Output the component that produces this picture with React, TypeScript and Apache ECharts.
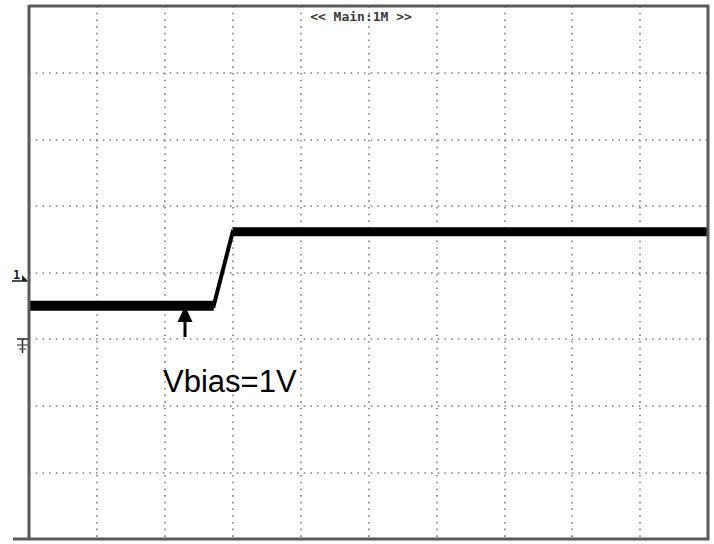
import React, { useEffect, useRef } from "react";
import * as echarts from "echarts";

// Oscilloscope screen: 10 horizontal divisions, 8 vertical divisions
const xDivisions = [0, 10];
const yDivisions = [0, 8];
// Trace (x in divisions, y in divisions from bottom)
const traceX = [0, 2.72, 3.0, 10];
const traceY = [3.5, 3.5, 4.61, 4.61];
const titleText = "<< Main:1M >>";
const annotationText = "Vbias=1V";

export default function App() {
  const ref = useRef<HTMLDivElement>(null);
  useEffect(() => {
    if (!ref.current) return;
    const chart = echarts.init(ref.current, null, { renderer: "svg" });
    const pts = traceX.map((x, i) => [x, traceY[i]]);
    const gridStyle = { color: "#808080", width: 1.6, type: [1.6, 5.1] as any };
    chart.setOption({
      animation: false,
      backgroundColor: "#ffffff",
      grid: { left: 29, top: 6, width: 679, height: 533, show: false },
      xAxis: {
        type: "value",
        min: xDivisions[0],
        max: xDivisions[1],
        interval: 1,
        axisLine: { show: false },
        axisTick: { show: false },
        axisLabel: { show: false },
        splitLine: { show: true, lineStyle: gridStyle },
      },
      yAxis: {
        type: "value",
        min: yDivisions[0],
        max: yDivisions[1],
        interval: 1,
        axisLine: { show: false },
        axisTick: { show: false },
        axisLabel: { show: false },
        splitLine: { show: true, lineStyle: gridStyle },
      },
      series: [
        {
          type: "line",
          data: [pts[0], pts[1]],
          symbol: "none",
          lineStyle: { color: "#000000", width: 10, cap: "butt" },
          z: 3,
        },
        {
          type: "line",
          data: [pts[1], pts[2]],
          symbol: "none",
          lineStyle: { color: "#000000", width: 4, cap: "square" },
          z: 3,
        },
        {
          type: "line",
          data: [pts[2], pts[3]],
          symbol: "none",
          lineStyle: { color: "#000000", width: 9, cap: "butt" },
          z: 3,
        },
      ],
      graphic: [
        // screen border
        { type: "line", shape: { x1: 29, y1: 6, x2: 709, y2: 6 }, style: { stroke: "#5a5a5a", lineWidth: 3 }, z: 10 },
        { type: "line", shape: { x1: 708, y1: 5, x2: 708, y2: 540 }, style: { stroke: "#5a5a5a", lineWidth: 3 }, z: 10 },
        { type: "line", shape: { x1: 29, y1: 5, x2: 29, y2: 540 }, style: { stroke: "#5a5a5a", lineWidth: 3 }, z: 10 },
        { type: "line", shape: { x1: 13, y1: 539, x2: 709, y2: 539 }, style: { stroke: "#5a5a5a", lineWidth: 3 }, z: 10 },
        // title
        {
          type: "text",
          x: 361,
          y: 16,
          style: {
            text: titleText,
            font: "bold 13px 'DejaVu Sans Mono'",
            fill: "#3a3a3a",
            align: "center",
            verticalAlign: "middle",
          },
          z: 10,
        },
        // channel 1 marker
        {
          type: "text",
          x: 13,
          y: 275,
          style: { text: "1", font: "bold 12px 'DejaVu Sans Mono'", fill: "#222", align: "left", verticalAlign: "middle" },
          z: 10,
        },
        { type: "line", shape: { x1: 12, y1: 281, x2: 27, y2: 281 }, style: { stroke: "#222", lineWidth: 1.6 }, z: 10 },
        { type: "polygon", shape: { points: [[22, 275], [28, 281], [22, 281]] }, style: { fill: "#222" }, z: 10 },
        // ground marker
        { type: "line", shape: { x1: 17, y1: 339, x2: 28, y2: 339 }, style: { stroke: "#333", lineWidth: 1.6 }, z: 10 },
        { type: "line", shape: { x1: 22.5, y1: 339, x2: 22.5, y2: 353 }, style: { stroke: "#333", lineWidth: 1.6 }, z: 10 },
        { type: "line", shape: { x1: 17, y1: 345, x2: 28, y2: 345 }, style: { stroke: "#555", lineWidth: 1.3 }, z: 10 },
        { type: "line", shape: { x1: 19, y1: 349, x2: 26, y2: 349 }, style: { stroke: "#555", lineWidth: 1.3 }, z: 10 },
        // annotation arrow
        { type: "polygon", shape: { points: [[185, 306], [177.5, 322], [192.5, 322]] }, style: { fill: "#000" }, z: 10 },
        { type: "line", shape: { x1: 185, y1: 320, x2: 185, y2: 337 }, style: { stroke: "#000", lineWidth: 3 }, z: 10 },
        {
          type: "text",
          x: 163,
          y: 366,
          style: {
            text: annotationText,
            font: "31px 'Liberation Sans', Arial, sans-serif",
            fill: "#000",
            align: "left",
            verticalAlign: "alphabetic",
          },
          z: 10,
        },
      ],
    });
    return () => chart.dispose();
  }, []);
  return (
    <div
      ref={ref}
      style={{ position: "fixed", left: 0, top: 0, width: 714, height: 544, background: "#fff" }}
    />
  );
}
